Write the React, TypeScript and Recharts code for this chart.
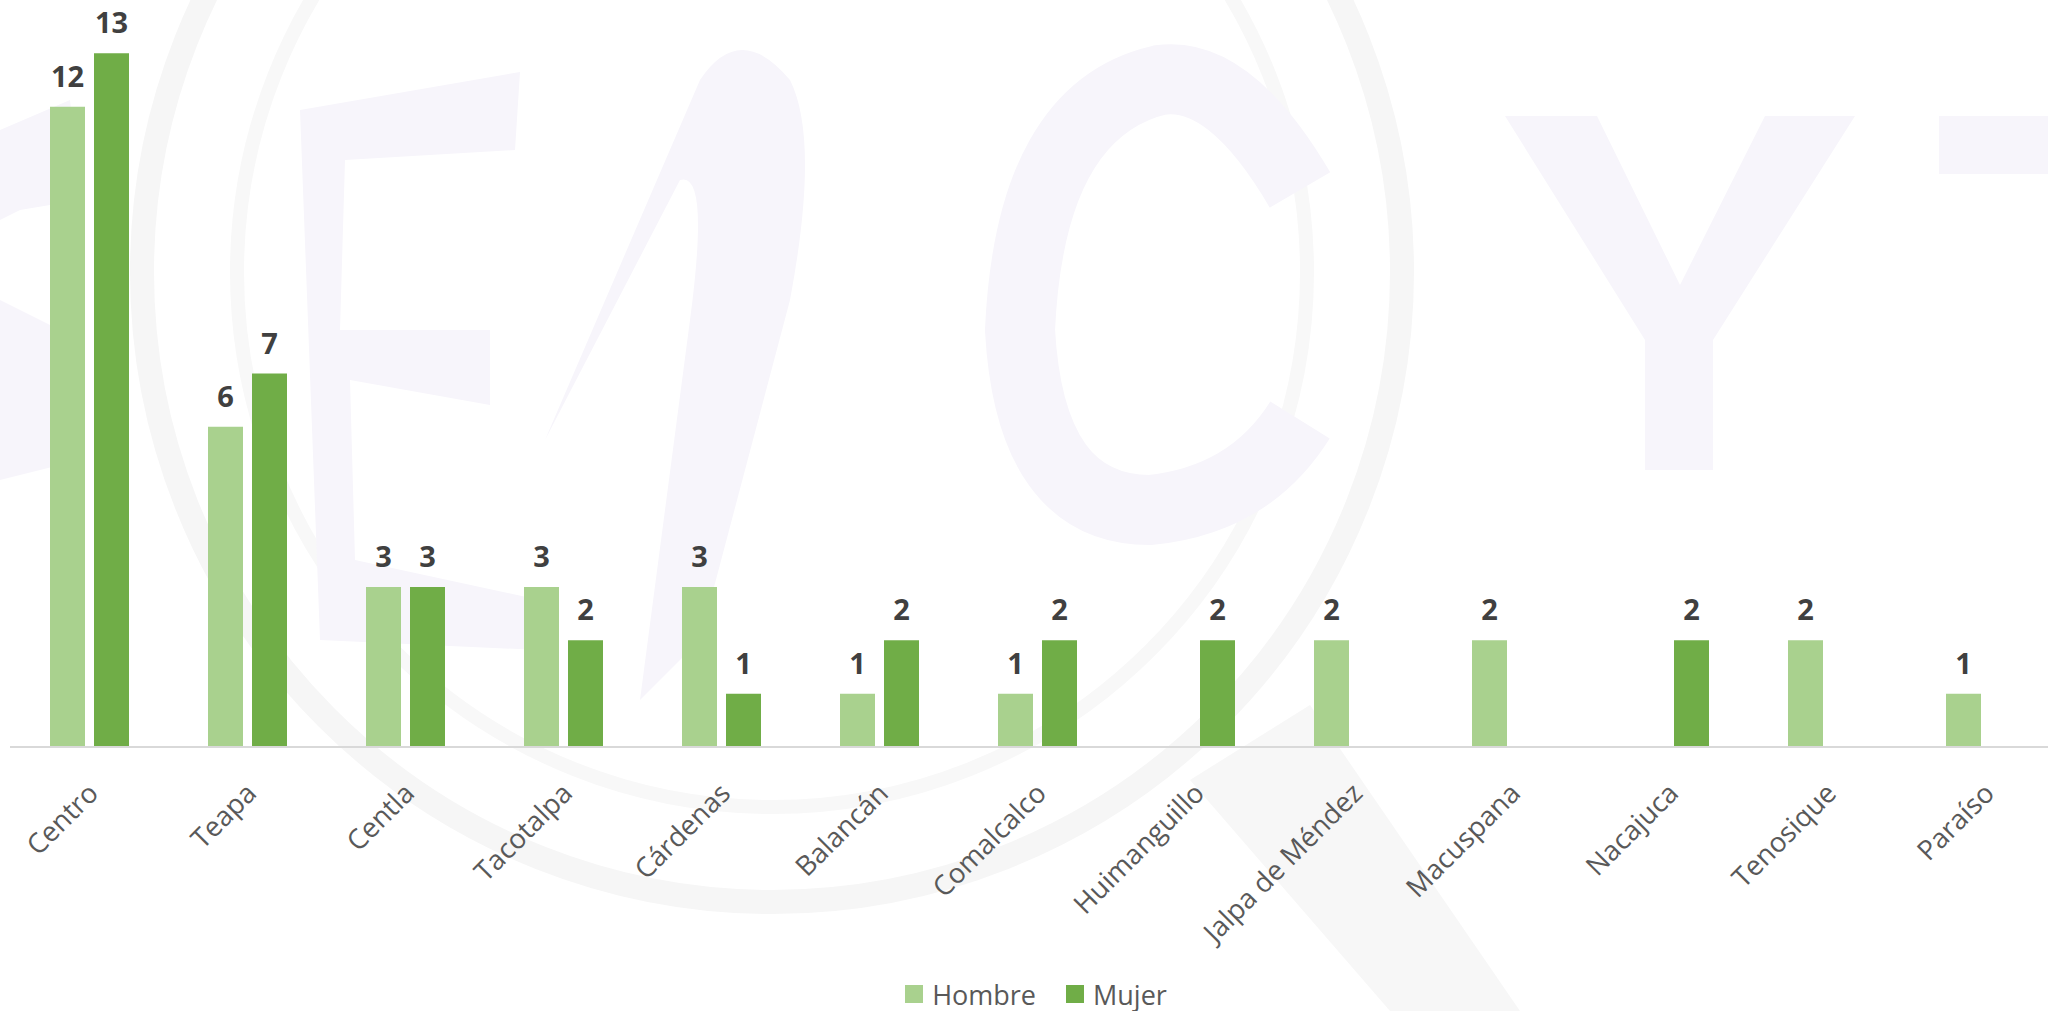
import { Bar, BarChart, LabelList, Legend, XAxis, YAxis } from 'recharts';

const municipios = [
  'Centro',
  'Teapa',
  'Centla',
  'Tacotalpa',
  'Cárdenas',
  'Balancán',
  'Comalcalco',
  'Huimanguillo',
  'Jalpa de Méndez',
  'Macuspana',
  'Nacajuca',
  'Tenosique',
  'Paraíso',
];
const hombre = [12, 6, 3, 3, 3, 1, 1, null, 2, 2, null, 2, 1];
const mujer = [13, 7, 3, 2, 1, 2, 2, 2, null, null, 2, null, null];

const series = [
  { key: 'Hombre', color: '#A9D18E' },
  { key: 'Mujer', color: '#70AD47' },
];

const data = municipios.map((name, i) => ({ name, Hombre: hombre[i], Mujer: mujer[i] }));

const FONT = '"Open Sans", sans-serif';
const LAV = '#F7F5FB';

// faint logo watermark behind the chart
function Watermark() {
  return (
    <svg width={2048} height={1011} style={{ position: 'absolute', left: 0, top: 0 }}>
      <circle cx={772} cy={272} r={630} fill="none" stroke="#F6F6F6" strokeWidth={24} />
      <circle cx={772} cy={272} r={535} fill="none" stroke="#F8F8F8" strokeWidth={14} />
      <path d="M1190 780 L1310 705 L1520 1011 L1390 1011 Z" fill="#F7F7F7" />
      {/* S (cut at left edge) */}
      <path d="M0 130 L70 100 L80 200 L20 210 L0 220 Z M0 300 L60 330 L80 460 L0 480 Z" fill={LAV} />
      {/* E */}
      <path
        d="M300 110 L520 72 L515 150 L345 160 L340 330 L490 330 L490 405 L350 380 L355 560 L540 600 L540 650 L320 640 Z"
        fill={LAV}
      />
      {/* 2 */}
      <path
        d="M545 440 L700 80 Q740 20 790 80 Q820 140 790 300 L700 640 L640 700 L690 320 Q710 170 680 180 Z"
        fill={LAV}
      />
      {/* C */}
      <path
        d="M1300 190 Q1230 70 1160 80 Q1030 110 1020 330 Q1030 510 1150 510 Q1250 500 1300 420"
        fill="none"
        stroke={LAV}
        strokeWidth={70}
      />
      {/* Y */}
      <path
        d="M1505 116 L1597 116 L1680 285 L1765 116 L1855 116 L1713 340 L1713 470 L1645 470 L1645 340 Z"
        fill={LAV}
      />
      {/* T */}
      <rect x={1939} y={116} width={120} height={58} fill={LAV} />
    </svg>
  );
}

function AngledTick({ x, y, payload }: any) {
  const ax = x + 11;
  const ay = y + 40;
  return (
    <text
      x={ax}
      y={ay}
      textAnchor="end"
      transform={`rotate(-45 ${ax} ${ay})`}
      fill="#595959"
      fontSize={27.5}
      fontFamily={FONT}
    >
      {payload.value}
    </text>
  );
}

function ValueLabel({ x, y, width, value }: any) {
  if (value == null || value === 0) return null;
  return (
    <text
      x={x + width / 2}
      y={y - 20}
      textAnchor="middle"
      fill="#404040"
      fontSize={29}
      fontWeight="bold"
      fontFamily={FONT}
    >
      {value}
    </text>
  );
}

function LegendBox() {
  return (
    <div
      style={{
        height: 30,
        display: 'flex',
        justifyContent: 'center',
        alignItems: 'center',
        gap: 30,
        fontFamily: FONT,
        fontSize: 27,
        color: '#595959',
      }}
    >
      {series.map((s) => (
        <div key={s.key} style={{ display: 'flex', alignItems: 'center', gap: 9 }}>
          <span style={{ width: 18, height: 18, background: s.color, display: 'inline-block' }} />
          <span>{s.key}</span>
        </div>
      ))}
    </div>
  );
}

export default function App() {
  return (
    <div
      style={{
        position: 'fixed',
        left: 0,
        top: 0,
        width: 2048,
        height: 1011,
        overflow: 'hidden',
        background: '#ffffff',
      }}
    >
      <Watermark />
      <div style={{ position: 'absolute', left: 0, top: 0 }}>
        <BarChart
          width={2072}
          height={1011}
          data={data}
          margin={{ top: 0, right: 8, left: 10, bottom: 0 }}
          barGap={9}
          barSize={35}
        >
          <XAxis
            dataKey="name"
            tick={<AngledTick />}
            tickLine={false}
            axisLine={{ stroke: '#D9D9D9', strokeWidth: 2 }}
            height={234}
            interval={0}
          />
          <YAxis hide domain={[0, 14]} />
          <Legend
            content={<LegendBox />}
            verticalAlign="bottom"
            wrapperStyle={{ left: 0, width: 2072, bottom: 2 }}
          />
          {series.map((s) => (
            <Bar key={s.key} dataKey={s.key} fill={s.color} isAnimationActive={false}>
              <LabelList dataKey={s.key} content={<ValueLabel />} />
            </Bar>
          ))}
        </BarChart>
      </div>
    </div>
  );
}
